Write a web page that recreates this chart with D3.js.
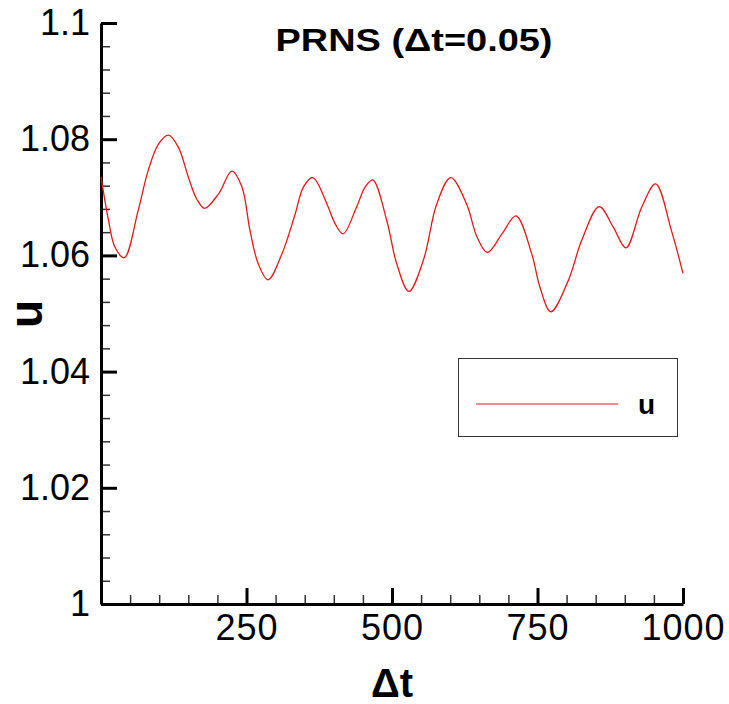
<!DOCTYPE html>
<html>
<head>
<meta charset="utf-8">
<script src="https://cdn.jsdelivr.net/npm/d3@7"></script>
<style>
  body { margin: 0; background: #fff; }
  svg { display: block; font-family: "Liberation Sans", Arial, sans-serif; }
</style>
</head>
<body>
<div id="chart"></div>
<script>
// Time steps and velocity
const tSteps = [0, 13, 24, 40, 64, 81, 99, 116, 133, 150, 164, 178, 202, 225, 242, 256, 270, 287,
  311, 333, 348, 364, 388, 402, 416, 439, 454, 467, 491, 508, 529, 554, 577, 601, 628, 646,
  664, 689, 713, 740, 754, 773, 803, 826, 856, 880, 902, 929, 953, 980, 1000];
const uValues = [1.0735, 1.0660, 1.0614, 1.0596, 1.0678, 1.0746, 1.0792, 1.0807, 1.0786, 1.0735,
  1.0698, 1.0681, 1.0706, 1.0745, 1.0718, 1.0643, 1.0586, 1.0558, 1.0603, 1.0669, 1.0718, 1.0734,
  1.0689, 1.0655, 1.0637, 1.0683, 1.0718, 1.0730, 1.0660, 1.0586, 1.0538, 1.0592, 1.0689, 1.0734,
  1.0689, 1.0632, 1.0605, 1.0637, 1.0668, 1.0603, 1.0546, 1.0503, 1.0557, 1.0626, 1.0684, 1.0649,
  1.0613, 1.0683, 1.0723, 1.0643, 1.0569];

const xMajor = [250, 500, 750, 1000];
const xMinor = d3.range(50, 1000, 50).filter(d => d % 250 !== 0);
const yMajor = [1, 1.02, 1.04, 1.06, 1.08, 1.1];
const yMinor = d3.range(1.004, 1.1, 0.004).filter(d => Math.abs(d * 50 - Math.round(d * 50)) > 1e-6);

const width = 729;
const height = 704;
const margin = { top: 23, right: 46, bottom: 100, left: 101 };

const svg = d3.select("#chart")
  .append("svg")
    .attr("width", width)
    .attr("height", height);

const x = d3.scaleLinear().domain([0, 1000]).range([margin.left, width - margin.right]);
const y = d3.scaleLinear().domain([1, 1.1]).range([height - margin.bottom, margin.top]);

// minor ticks first, so the axis line sits on top
svg.append("g")
  .attr("transform", `translate(${margin.left},0)`)
  .call(d3.axisLeft(y).tickValues(yMinor).tickSize(-9).tickSizeOuter(0).tickFormat(""))
  .call(g => g.select(".domain").remove())
  .call(g => g.selectAll("line").attr("stroke", "#333").attr("stroke-width", 1.5));

svg.append("g")
  .attr("transform", `translate(0,${height - margin.bottom})`)
  .call(d3.axisBottom(x).tickValues(xMinor).tickSize(-9).tickSizeOuter(0).tickFormat(""))
  .call(g => g.select(".domain").remove())
  .call(g => g.selectAll("line").attr("stroke", "#333").attr("stroke-width", 1.5));

// major axes
svg.append("g")
  .attr("transform", `translate(${margin.left},0)`)
  .call(d3.axisLeft(y).tickValues(yMajor).tickSize(-16).tickSizeOuter(0).tickPadding(11)
    .tickFormat(d => String(+d.toFixed(2))))
  .call(g => g.select(".domain").attr("stroke", "#000").attr("stroke-width", 3))
  .call(g => g.selectAll("line").attr("stroke", "#000").attr("stroke-width", 3))
  .call(g => g.selectAll("text").attr("fill", "#000").attr("font-size", 36)
    .attr("font-family", "'Liberation Sans', Arial, sans-serif"));

svg.append("g")
  .attr("transform", `translate(0,${height - margin.bottom})`)
  .call(d3.axisBottom(x).tickValues(xMajor).tickSize(-16).tickSizeOuter(0).tickPadding(10)
    .tickFormat(d3.format("d")))
  .call(g => g.select(".domain").attr("stroke", "#000").attr("stroke-width", 3))
  .call(g => g.selectAll("line").attr("stroke", "#000").attr("stroke-width", 3))
  .call(g => g.selectAll("text").attr("fill", "#000").attr("font-size", 36)
    .attr("letter-spacing", 1)
    .attr("font-family", "'Liberation Sans', Arial, sans-serif"));

// the curve
const line = d3.line()
  .x(d => x(d[0]))
  .y(d => y(d[1]))
  .curve(d3.curveCatmullRom.alpha(0.5));

svg.append("path")
  .datum(d3.zip(tSteps, uValues))
  .attr("fill", "none")
  .attr("stroke", "#e31a1c")
  .attr("stroke-width", 1.3)
  .attr("d", line);

// title and axis labels
svg.append("text")
  .attr("x", 414)
  .attr("y", 51)
  .attr("text-anchor", "middle")
  .attr("font-size", 31)
  .attr("font-weight", "bold")
  .attr("textLength", 277)
  .attr("lengthAdjust", "spacingAndGlyphs")
  .text("PRNS (\u0394t=0.05)");

svg.append("text")
  .attr("x", (margin.left + width - margin.right) / 2)
  .attr("y", 697)
  .attr("text-anchor", "middle")
  .attr("font-size", 40)
  .attr("font-weight", "bold")
  .text("\u0394t");

svg.append("text")
  .attr("transform", `translate(42,314) rotate(-90)`)
  .attr("text-anchor", "middle")
  .attr("font-size", 46)
  .attr("font-weight", "bold")
  .text("u");

// legend
const legend = svg.append("g");
legend.append("rect")
  .attr("x", 458.5).attr("y", 358.5)
  .attr("width", 219).attr("height", 78)
  .attr("fill", "#fff")
  .attr("stroke", "#333")
  .attr("stroke-width", 1);
legend.append("line")
  .attr("x1", 476).attr("x2", 618)
  .attr("y1", 404).attr("y2", 404)
  .attr("stroke", "#e31a1c")
  .attr("stroke-width", 1);
legend.append("text")
  .attr("x", 638).attr("y", 414)
  .attr("font-size", 28)
  .attr("font-weight", "bold")
  .text("u");
</script>
</body>
</html>
